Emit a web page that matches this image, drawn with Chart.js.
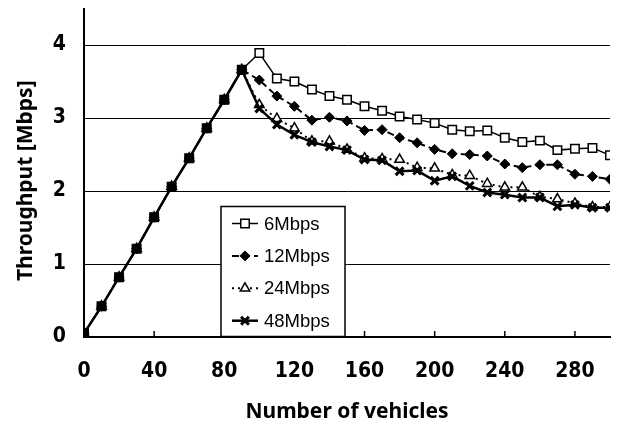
<!DOCTYPE html>
<html>
<head>
<meta charset="utf-8">
<script src="https://cdn.jsdelivr.net/npm/chart.js@4.4.1/dist/chart.umd.min.js"></script>
<style>
html,body{margin:0;padding:0;background:#fff;}
#wrap{width:619px;height:425px;position:relative;background:#fff;}
</style>
</head>
<body>
<div id="wrap"><canvas id="c" width="619" height="425"></canvas></div>
<script>
// ---- data ----
const vehicles = [0,10,20,30,40,50,60,70,80,90,100,110,120,130,140,150,160,170,180,190,200,210,220,230,240,250,260,270,280,290,300];
const seriesNames = ['6Mbps','12Mbps','24Mbps','48Mbps'];
const tp6Mbps  = [0.05,0.42,0.82,1.21,1.64,2.06,2.45,2.86,3.25,3.66,3.89,3.54,3.50,3.39,3.30,3.25,3.16,3.10,3.02,2.98,2.93,2.84,2.82,2.83,2.73,2.67,2.69,2.56,2.58,2.59,2.49];
const tp12Mbps = [0.05,0.42,0.82,1.21,1.64,2.06,2.45,2.86,3.25,3.66,3.52,3.30,3.16,2.97,3.01,2.96,2.83,2.84,2.73,2.66,2.57,2.51,2.50,2.48,2.37,2.32,2.36,2.36,2.23,2.20,2.16];
const tp24Mbps = [0.05,0.42,0.82,1.21,1.64,2.06,2.45,2.86,3.25,3.66,3.18,2.99,2.86,2.68,2.68,2.57,2.45,2.44,2.43,2.32,2.31,2.22,2.21,2.10,2.05,2.05,1.92,1.89,1.83,1.78,1.78];
const tp48Mbps = [0.05,0.42,0.82,1.21,1.64,2.06,2.45,2.86,3.25,3.66,3.13,2.91,2.77,2.67,2.61,2.56,2.43,2.42,2.27,2.28,2.14,2.20,2.07,1.98,1.95,1.91,1.91,1.79,1.81,1.77,1.77];
const xTitle = 'Number of vehicles';
const yTitle = 'Throughput [Mbps]';

const toPts = arr => vehicles.map((v, i) => ({x: v, y: arr[i]}));
// where all series coincide, the overlapping markers read as a solid black blob
const shared = i => tp6Mbps[i] === tp12Mbps[i] && tp6Mbps[i] === tp24Mbps[i] && tp6Mbps[i] === tp48Mbps[i];
const openFill = c => shared(c.dataIndex) ? '#000' : '#fff';

const tickFont = {family: '"Liberation Sans Narrow", "DejaVu Sans Condensed", "Liberation Sans", sans-serif', size: 21, weight: 'bold'};
const titleFont = {family: '"Noto Sans", "Open Sans", sans-serif', size: 21, weight: 'bold'};

const innerTicks = {
  id: 'innerTicks',
  beforeDatasetsDraw(chart) {
    const s = chart.scales.x, a = chart.chartArea, ctx = chart.ctx;
    ctx.save();
    ctx.strokeStyle = '#000';
    ctx.lineWidth = 1.5;
    s.ticks.forEach(t => {
      if (t.value === 0) return;
      const x = s.getPixelForValue(t.value);
      ctx.beginPath();
      ctx.moveTo(x, a.bottom);
      ctx.lineTo(x, a.bottom - 6);
      ctx.stroke();
    });
    ctx.restore();
  }
};

const yTitlePlugin = {
  id: 'yTitlePlugin',
  afterDraw(chart) {
    const ctx = chart.ctx, a = chart.chartArea;
    ctx.save();
    ctx.translate(26, (a.top + a.bottom) / 2 + 8);
    ctx.rotate(-Math.PI / 2);
    ctx.font = 'bold 21px "Noto Sans", "Open Sans", sans-serif';
    ctx.fillStyle = '#000';
    ctx.textAlign = 'center';
    ctx.textBaseline = 'middle';
    ctx.fillText(yTitle, 0, 0);
    ctx.restore();
  }
};

const boxLegend = {
  id: 'boxLegend',
  afterDatasetsDraw(chart) {
    const ctx = chart.ctx, a = chart.chartArea;
    const bx = a.left + 137, by = a.top + 198, bw = 124, bh = 130;
    ctx.save();
    ctx.fillStyle = '#fff';
    ctx.fillRect(bx, by, bw, bh);
    ctx.strokeStyle = '#000';
    ctx.lineWidth = 1.5;
    ctx.strokeRect(bx, by, bw, bh);
    const dsets = chart.data.datasets;
    dsets.forEach((ds, i) => {
      const y = by + 17 + i * 32.4;
      const x0 = bx + 11, x1 = bx + 37, xm = (x0 + x1) / 2;
      ctx.strokeStyle = '#000';
      ctx.setLineDash(ds.borderDash || []);
      ctx.lineWidth = ds.borderWidth;
      ctx.beginPath();
      ctx.moveTo(x0, y);
      ctx.lineTo(x1, y);
      ctx.stroke();
      ctx.setLineDash([]);
      ctx.fillStyle = ds.legendFill;
      ctx.lineWidth = ds.pointBorderWidth;
      Chart.helpers.drawPoint(ctx, {pointStyle: ds.pointStyle, radius: ds.pointRadius, borderWidth: ds.pointBorderWidth, rotation: 0}, xm, y);
      ctx.fillStyle = '#000';
      ctx.font = '18.5px "Liberation Sans", Arial, sans-serif';
      ctx.textBaseline = 'middle';
      ctx.textAlign = 'left';
      ctx.fillText(ds.label, bx + 43, y + 1);
    });
    ctx.restore();
  }
};

new Chart(document.getElementById('c'), {
  type: 'line',
  data: {
    datasets: [
      {label: seriesNames[0], data: toPts(tp6Mbps), borderColor: '#000', borderWidth: 1.5, borderDash: [],
       pointStyle: 'rect', pointRadius: 6, pointBackgroundColor: openFill, legendFill: '#fff', pointBorderColor: '#000', pointBorderWidth: 1.5, order: 4},
      {label: seriesNames[1], data: toPts(tp12Mbps), borderColor: '#000', borderWidth: 2, borderDash: [7, 4],
       pointStyle: 'rectRot', pointRadius: 5, pointBackgroundColor: '#000', legendFill: '#000', pointBorderColor: '#000', pointBorderWidth: 1, order: 3},
      {label: seriesNames[2], data: toPts(tp24Mbps), borderColor: '#000', borderWidth: 2, borderDash: [2, 4],
       pointStyle: 'triangle', pointRadius: 5.5, pointBackgroundColor: openFill, legendFill: '#fff', pointBorderColor: '#000', pointBorderWidth: 1.5, order: 2},
      {label: seriesNames[3], data: toPts(tp48Mbps), borderColor: '#000', borderWidth: 2.5, borderDash: [],
       pointStyle: 'crossRot', pointRadius: 5.5, pointBackgroundColor: '#000', legendFill: '#000', pointBorderColor: '#000', pointBorderWidth: 3, order: 1}
    ]
  },
  options: {
    responsive: false,
    devicePixelRatio: 1,
    animation: false,
    layout: {padding: {top: 5, right: 9, left: 0, bottom: 0}},
    plugins: {legend: {display: false}, tooltip: {enabled: false}},
    elements: {line: {tension: 0, fill: false}},
    scales: {
      x: {
        type: 'linear', min: 0, max: 300,
        ticks: {stepSize: 40, includeBounds: false, padding: 22, color: '#000', font: tickFont, maxRotation: 0, autoSkip: false},
        grid: {display: true, drawOnChartArea: false, drawTicks: false},
        border: {display: true, color: '#000', width: 2},
        title: {display: true, text: xTitle, color: '#000', font: titleFont, padding: {top: 0, bottom: 0}},
        afterFit(s) { s.height = 88; s.paddingLeft = 0; s.paddingRight = 0; }
      },
      y: {
        min: 0, max: 4.5,
        ticks: {stepSize: 1, includeBounds: false, padding: 18, color: '#000', font: tickFont},
        grid: {color: '#000', lineWidth: 1, drawTicks: false},
        border: {display: true, color: '#000', width: 2},
        title: {display: false},
        afterFit(s) { s.width = 84; s.paddingTop = 0; s.paddingBottom = 0; }
      }
    }
  },
  plugins: [innerTicks, boxLegend, yTitlePlugin]
});
</script>
</body>
</html>
